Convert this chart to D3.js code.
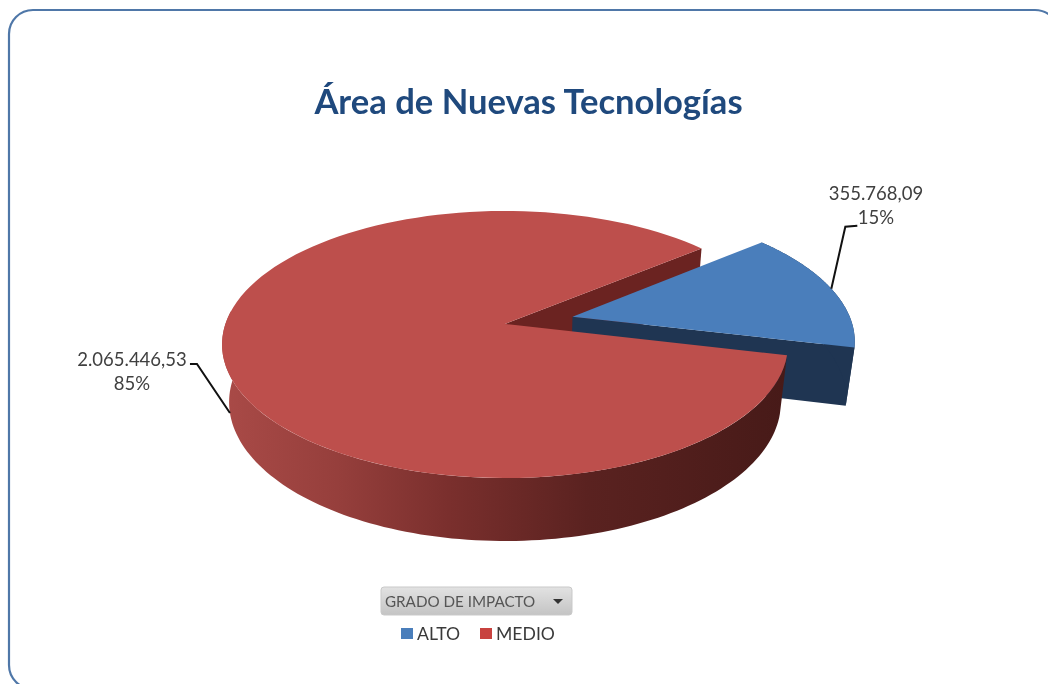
<!DOCTYPE html>
<html>
<head>
<meta charset="utf-8">
<title>Área de Nuevas Tecnologías</title>
<script src="https://cdn.jsdelivr.net/npm/d3@7"></script>
<style>
  html, body { margin: 0; padding: 0; background: #fff; overflow: hidden; }
  text { font-family: Lato, "Open Sans", sans-serif; }
  svg { filter: blur(0.55px); display: block; }
</style>
</head>
<body>
<div id="chart"></div>
<script>
const width = 1048,
  height = 684;

// data
const categories = ["ALTO", "MEDIO"];
const amounts = [355768.09, 2065446.53];
const amountLabels = ["355.768,09", "2.065.446,53"];
const percentLabels = ["15%", "85%"];
const chartTitle = "Área de Nuevas Tecnologías";
const filterLabel = "GRADO DE IMPACTO";

const topColors = ["#4a7ebb", "#bd4f4c"];
const legendColors = ["#4a7ebb", "#c8423f"];

// 3d view of the pie: a unit disk tilted with some perspective
const cx = 505, cy = 324;
const rx = 279.6, ry = 130.4;
const tilt = 0.1536, depth = 58.7, shrink = 0.025;
const explode = 0.25;

// u goes right, v goes toward the viewer, z is 0 on top and 1 on the bottom
function project(u, v, z) {
  const s = 1 / (1 - tilt * v + shrink * z);
  return [cx + rx * u * s, cy + (ry * v + depth * z) * s];
}

const svg = d3
  .select("#chart")
  .append("svg")
  .attr("width", width)
  .attr("height", height);

const defs = svg.append("defs");

const wallGradient = defs
  .append("linearGradient")
  .attr("id", "redWall")
  .attr("gradientUnits", "userSpaceOnUse")
  .attr("x1", 225)
  .attr("x2", 785)
  .attr("y1", 0)
  .attr("y2", 0);
[
  [0, "#a94a47"],
  [0.2, "#963f3c"],
  [0.4, "#7a2f2d"],
  [0.65, "#5a2220"],
  [1, "#471a18"],
].forEach(d => wallGradient.append("stop").attr("offset", d[0]).attr("stop-color", d[1]));

// outer frame, runs off the right and bottom of the picture
svg
  .append("rect")
  .attr("x", 9)
  .attr("y", 10)
  .attr("width", 1050)
  .attr("height", 679)
  .attr("rx", 24)
  .attr("fill", "#fff")
  .attr("stroke", "#4f77a8")
  .attr("stroke-width", 2.2);

svg
  .append("text")
  .attr("x", 528.5)
  .attr("y", 114)
  .attr("text-anchor", "middle")
  .attr("font-size", 34.6)
  .attr("font-weight", 700)
  .attr("fill", "#1f497d")
  .text(chartTitle);

// pie angles, 0 is north and clockwise, as d3 has them
const startAngle = (50.5 * Math.PI) / 180;
const slices = d3
  .pie()
  .sort(null)
  .startAngle(startAngle)
  .endAngle(startAngle + 2 * Math.PI)(amounts);

const blue = slices[0];
const red = slices[1];

const mid = d => (d.startAngle + d.endAngle) / 2;
const unit = a => [Math.sin(a), -Math.cos(a)];
const offset = [unit(mid(blue))[0] * explode, unit(mid(blue))[1] * explode];

const line = d3.line().curve(d3.curveLinearClosed);
const angleSteps = (a, b) => d3.range(0, 121).map(i => a + ((b - a) * i) / 120);

function arcPoints(a, b, z, dx, dy) {
  return angleSteps(a, b).map(t => {
    const p = unit(t);
    return project(p[0] + dx, p[1] + dy, z);
  });
}

const plot = svg.append("g");

// wall of the red slice showing in the gap, behind the blue piece
const redBack = unit(red.endAngle);
plot
  .append("path")
  .attr("d", line([project(0, 0, 0), project(redBack[0], redBack[1], 0), project(redBack[0], redBack[1], 1), project(0, 0, 1)]))
  .attr("fill", "#6b2321");

// blue piece, pulled out of the pie
const bluePiece = plot.append("g");
const blueRim = unit(blue.endAngle);
bluePiece
  .append("path")
  .attr(
    "d",
    line([
      project(offset[0], offset[1], 0),
      project(blueRim[0] + offset[0], blueRim[1] + offset[1], 0),
      project(blueRim[0] + offset[0], blueRim[1] + offset[1], 1),
      project(offset[0], offset[1], 1),
    ])
  )
  .attr("fill", "#1f3552");
bluePiece
  .append("path")
  .attr(
    "d",
    line(
      arcPoints(blue.startAngle, blue.endAngle, 0, offset[0], offset[1]).concat(
        arcPoints(blue.startAngle, blue.endAngle, 1, offset[0], offset[1]).reverse()
      )
    )
  )
  .attr("fill", "#1f3552");
bluePiece
  .append("path")
  .attr("d", line([project(offset[0], offset[1], 0)].concat(arcPoints(blue.startAngle, blue.endAngle, 0, offset[0], offset[1]))))
  .attr("fill", topColors[0]);

// red piece, front wall first and top over it
const wallEnd = 1.5 * Math.PI + 0.1;
plot
  .append("path")
  .attr("d", line(arcPoints(red.startAngle, wallEnd, 0, 0, 0).concat(arcPoints(red.startAngle, wallEnd, 1, 0, 0).reverse())))
  .attr("fill", "url(#redWall)");
plot
  .append("path")
  .attr("d", line([project(0, 0, 0)].concat(arcPoints(red.startAngle, red.endAngle, 0, 0, 0))))
  .attr("fill", topColors[1]);

// labels and their leader lines
const leader = d3.line();
const blueDir = unit(mid(blue));
const blueAnchor = project(blueDir[0] + offset[0], blueDir[1] + offset[1], 0);
const redDir = unit(mid(red));
const redAnchor = project(redDir[0], redDir[1], 1);

svg
  .append("path")
  .attr("d", leader([blueAnchor, [blueAnchor[0] + 14, blueAnchor[1] - 62], [blueAnchor[0] + 26, blueAnchor[1] - 63]]))
  .attr("fill", "none")
  .attr("stroke", "#111")
  .attr("stroke-width", 2);
svg
  .append("path")
  .attr("d", leader([redAnchor, [redAnchor[0] - 33, redAnchor[1] - 49], [redAnchor[0] - 40, redAnchor[1] - 49]]))
  .attr("fill", "none")
  .attr("stroke", "#111")
  .attr("stroke-width", 2);

const labelPlaces = [
  { x: 876, y: 200 },
  { x: 132, y: 366 },
];
labelPlaces.forEach((d, i) => {
  const label = svg
    .append("text")
    .attr("text-anchor", "middle")
    .attr("font-size", 18.5)
    .attr("fill", "#404040");
  label.append("tspan").attr("x", d.x).attr("y", d.y).text(amountLabels[i]);
  label.append("tspan").attr("x", d.x).attr("y", d.y + 24).text(percentLabels[i]);
});

// filter button
const button = svg.append("g").attr("transform", "translate(381,587)");
const buttonFill = defs
  .append("linearGradient")
  .attr("id", "buttonFill")
  .attr("x1", 0)
  .attr("x2", 0)
  .attr("y1", 0)
  .attr("y2", 1);
buttonFill.append("stop").attr("offset", 0).attr("stop-color", "#e2e2e2");
buttonFill.append("stop").attr("offset", 1).attr("stop-color", "#c4c4c4");
button
  .append("rect")
  .attr("width", 191)
  .attr("height", 28)
  .attr("rx", 3)
  .attr("fill", "url(#buttonFill)")
  .attr("stroke", "#c9c9c9");
button
  .append("text")
  .attr("x", 4)
  .attr("y", 20)
  .attr("font-size", 15.2)
  .attr("fill", "#555")
  .text(filterLabel);
button.append("path").attr("d", "M172,12 h10 l-5,5 z").attr("fill", "#333");

// legend
const legendX = d3.scaleOrdinal().domain(categories).range([401, 480]);
const legend = svg
  .selectAll(".legend")
  .data(categories)
  .join("g")
  .attr("class", "legend")
  .attr("transform", d => `translate(${legendX(d)},628)`);
legend
  .append("rect")
  .attr("width", 12)
  .attr("height", 11)
  .attr("fill", (d, i) => legendColors[i]);
legend
  .append("text")
  .attr("x", 16)
  .attr("y", 12)
  .attr("font-size", 17.6)
  .attr("fill", "#3a3a3a")
  .text(d => d);
</script>
</body>
</html>
